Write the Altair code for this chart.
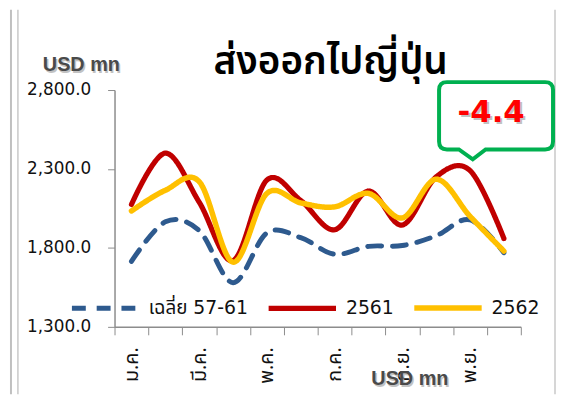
import altair as alt
import pandas as pd

months = ['ม.ค.', 'ก.พ.', 'มี.ค.', 'เม.ย.', 'พ.ค.', 'มิ.ย.', 'ก.ค.', 'ส.ค.', 'ก.ย.', 'ต.ค.', 'พ.ย.', 'ธ.ค.']
shown_months = ['ม.ค.', 'มี.ค.', 'พ.ค.', 'ก.ค.', 'ก.ย.', 'พ.ย.']
series_names = ['เฉลี่ย 57-61', '2561', '2562']
avg_57_61 = [1715, 1965, 1910, 1580, 1895, 1865, 1760, 1810, 1815, 1877, 1978, 1770]
y2561 = [2075, 2400, 2090, 1720, 2230, 2100, 1915, 2160, 1945, 2250, 2290, 1860]
y2562 = [2034, 2165, 2220, 1710, 2145, 2085, 2060, 2145, 1990, 2235, 2000, 1780]
y_ticks = [1300, 1800, 2300, 2800]
title_text = 'ส่งออกไปญี่ปุ่น'
unit_text = 'USD mn'
callout_text = '-4.4'

colors = ['#2E5A8E', '#C00000', '#FFC000']
widths = [5, 5.5, 13]
dashes = [[14, 11], [1, 0], [1, 0]]

rows = []
for name, vals in zip(series_names, [avg_57_61, y2561, y2562]):
    for m, v in zip(months, vals):
        rows.append({'month': m, 'series': name, 'value': v})
df = pd.DataFrame(rows)

THAI = 'Noto Sans Thai, Tahoma, sans-serif'
NUM = 'DejaVu Sans, Noto Sans Thai, sans-serif'

label_list = "[" + ",".join("'" + m + "'" for m in shown_months) + "]"

legend = alt.Legend(
    orient='none', legendX=-45.5, legendY=183, direction='horizontal', title=None,
    symbolType='stroke', symbolSize=4624, labelFontSize=19, labelFont=NUM,
    labelColor='#111111', labelOffset=7, columnPadding=9, padding=0,
)

x_enc = alt.X('month:N', sort=months, bandPosition=0.5,
              scale=alt.Scale(type='band', paddingInner=0, paddingOuter=0),
              axis=alt.Axis(title=None, labelAngle=-90, tickBand='extent', tickSize=8,
                            labelPadding=12, labelFontSize=20, labelFont=THAI,
                            labelColor='#111111', labelOverlap=False,
                            labelExpr=f"indexof({label_list}, datum.value) >= 0 ? datum.label : ''",
                            domainColor='#8c8c8c', tickColor='#8c8c8c', domainWidth=1.5))
y_enc = alt.Y('value:Q', scale=alt.Scale(domain=[1300, 2800], nice=False, zero=False),
              axis=alt.Axis(title=None, values=y_ticks, format=',.1f', tickSize=7,
                            labelPadding=17, labelFontSize=17, labelFont=NUM,
                            labelColor='#111111', grid=False,
                            domainColor='#8c8c8c', tickColor='#8c8c8c', domainWidth=1.5))
color_enc = alt.Color('series:N', scale=alt.Scale(domain=series_names, range=colors), legend=legend)
sw_enc = alt.StrokeWidth('series:N', scale=alt.Scale(domain=series_names, range=widths), legend=legend)
sd_enc = alt.StrokeDash('series:N', scale=alt.Scale(domain=series_names, range=dashes), legend=legend)

base = alt.Chart(df)
lines = []
for name in series_names:
    lines.append(
        base.transform_filter(alt.datum.series == name)
        .mark_line(interpolate='cardinal', strokeCap='round', strokeJoin='round')
        .encode(x=x_enc, y=y_enc, color=color_enc, strokeWidth=sw_enc, strokeDash=sd_enc)
    )

one = alt.Chart(pd.DataFrame({'a': [0]}))

frame = one.mark_rule(color='#c8c8c8', strokeWidth=1.5).encode(
    x=alt.value(-97.5), y=alt.value(-81), y2=alt.value(307))
frame_r = one.mark_rule(color='#c8c8c8', strokeWidth=1.5).encode(
    x=alt.value(444.5), y=alt.value(-81), y2=alt.value(307))
side = one.mark_rule(color='#c0c0c0', strokeWidth=2).encode(
    x=alt.value(-104.5), y=alt.value(-81), y2=alt.value(307))

title = one.mark_text(text=title_text, font=THAI, fontSize=39, fontWeight=600, color='#000000',
                      align='center', baseline='alphabetic').encode(
    x=alt.value(218), y=alt.value(-16))


def shadow_text(txt, x, y, size, color, font, dx=1.5, dy=1.5, shadow='#9a9a9a', base='alphabetic'):
    sh = one.mark_text(text=txt, font=font, fontSize=size, fontWeight='bold', color=shadow,
                       opacity=0.6, align='center', baseline=base).encode(
        x=alt.value(x + dx), y=alt.value(y + dy))
    tx = one.mark_text(text=txt, font=font, fontSize=size, fontWeight='bold', color=color,
                       align='center', baseline=base).encode(
        x=alt.value(x), y=alt.value(y))
    return [sh, tx]


unit_top = shadow_text(unit_text, -33.5, -19, 20, '#4a4a4a', 'Liberation Sans')
unit_bot = shadow_text(unit_text, 298, 298, 20, '#4a4a4a', 'Liberation Sans')

callout_path = ('M -0.861 -0.591 L 0.861 -0.591 Q 1 -0.591 1 -0.452 L 1 0.452 '
                'Q 1 0.591 0.861 0.591 L -0.183 0.591 L -0.409 0.765 L -0.652 0.591 '
                'L -0.861 0.591 Q -1 0.591 -1 0.452 L -1 -0.452 Q -1 -0.591 -0.861 -0.591 Z')
callout = one.mark_point(shape=callout_path, size=13225, fill='white', stroke='#00B050',
                         strokeWidth=4, opacity=1, fillOpacity=1).encode(
    x=alt.value(385), y=alt.value(26))
callout_txt = shadow_text(callout_text, 380, 23, 31, '#FF0000', 'DejaVu Sans', dx=2, dy=2,
                          base='middle')

chart = alt.layer(
    frame, frame_r, side, *lines, title, *unit_top, *unit_bot, callout, *callout_txt
).properties(
    width=410, height=239,
    autosize=alt.AutoSizeParams(type='none'),
    padding={'left': 107.5, 'top': 81, 'right': 35.5, 'bottom': 68},
    background='white',
).configure_view(stroke=None)

chart.save('out.html', embed_options={'renderer': 'svg', 'actions': False})
